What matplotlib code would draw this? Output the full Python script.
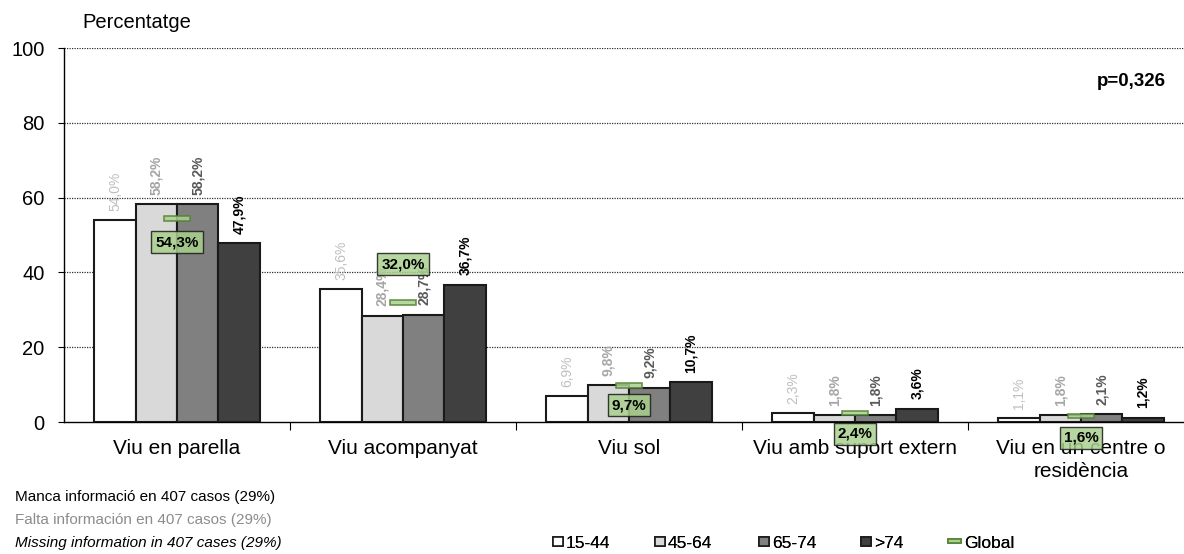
import matplotlib
matplotlib.use("Agg")
import matplotlib.pyplot as plt
from matplotlib.patches import Rectangle
from matplotlib.legend_handler import HandlerPatch
import numpy as np

plt.rcParams['font.family'] = ['Liberation Sans', 'DejaVu Sans']

categories = ["Viu en parella", "Viu acompanyat", "Viu sol", "Viu amb suport extern",
              "Viu en un centre o\nresidència"]
groups = ["15-44", "45-64", "65-74", ">74"]
v_15_44 = [54.0, 35.6, 6.9, 2.3, 1.1]
v_45_64 = [58.2, 28.4, 9.8, 1.8, 1.8]
v_65_74 = [58.2, 28.7, 9.2, 1.8, 2.1]
v_gt74 = [47.9, 36.7, 10.7, 3.6, 1.2]
global_vals = [54.3, 32.0, 9.7, 2.4, 1.6]
global_label_offset = [-6.2, 10.2, -5.2, -5.6, -5.8]
yticks = [0, 20, 40, 60, 80, 100]

series = [v_15_44, v_45_64, v_65_74, v_gt74]
bar_colors = ["#ffffff", "#d9d9d9", "#808080", "#404040"]
lab_colors = ["#bfbfbf", "#a6a6a6", "#595959", "#000000"]
lab_weights = ["normal", "bold", "bold", "bold"]

W, H = 1184, 554
fig = plt.figure(figsize=(W / 100, H / 100), dpi=100)
ax = fig.add_axes([64 / W, 1 - 422 / H, 1120 / W, 374 / H])

x = np.arange(len(categories))
bw = 0.183
for i, vals in enumerate(series):
    off = (i - 1.5) * bw
    ax.bar(x + off, vals, width=bw, color=bar_colors[i], edgecolor="#1a1a1a",
           linewidth=1.5, zorder=3)
    for xi, v in zip(x, vals):
        ax.text(xi + off, v + 2.5, f"{v:.1f}%".replace(".", ","), rotation=90,
                ha="center", va="bottom", fontsize=10, color=lab_colors[i],
                fontweight=lab_weights[i], zorder=5)

# global markers
mw, mh = 0.115, 1.3
for xi, g, o in zip(x, global_vals, global_label_offset):
    ax.add_patch(Rectangle((xi - mw / 2, g - mh / 2), mw, mh, facecolor="#a9d18e",
                           edgecolor="#548235", linewidth=1.2, zorder=6, alpha=0.85))
    ax.text(xi, g + o, f"{g:.1f}%".replace(".", ","), ha="center", va="center",
            fontsize=11, fontweight="bold", color="black", zorder=7,
            bbox=dict(boxstyle="square,pad=0.25", facecolor="#a9d18e", alpha=0.85,
                      edgecolor="#1a1a1a", linewidth=1.0))

ax.set_xlim(-0.5, -0.5 + 1120 / 226)
ax.set_ylim(0, 100)
ax.set_yticks(yticks)
ax.set_yticklabels([str(t) for t in yticks], fontsize=14.5)
for t in yticks[1:]:
    ax.axhline(t, color="#333333", linestyle=(0, (1, 1)), linewidth=0.9, zorder=1)
ax.tick_params(axis="y", length=4, width=0.8, direction="out", pad=10)
ax.set_xticks(x)
ax.set_xticklabels(categories, fontsize=15, linespacing=1.3)
ax.tick_params(axis="x", length=0, pad=12)
ax.set_xticks(np.arange(0.5, len(categories) - 0.5, 1), minor=True)
ax.tick_params(axis="x", which="minor", length=6, width=0.8, direction="out")
for s in ["top", "right"]:
    ax.spines[s].set_visible(False)
ax.spines["left"].set_linewidth(1.0)
ax.spines["bottom"].set_linewidth(1.0)

fig.text(82 / W, 1 - 22 / H, "Percentatge", fontsize=14.5, va="center", ha="left")
fig.text(1166 / W, 1 - 82 / H, "p=0,326", fontsize=13.5, fontweight="bold",
         ha="right", va="center")

fig.text(15 / W, 1 - 497 / H, "Manca informació en 407 casos (29%)", fontsize=11,
         va="center", color="black")
fig.text(15 / W, 1 - 520 / H, "Falta información en 407 casos (29%)", fontsize=11,
         va="center", color="#8c8c8c")
fig.text(15 / W, 1 - 543 / H, "Missing information in 407 cases (29%)", fontsize=11,
         va="center", color="black", style="italic")


def square_patch(legend, orig_handle, xdescent, ydescent, width, height, fontsize):
    s = min(width, height)
    return Rectangle((-xdescent, -ydescent + (height - s) / 2), s, s)


def flat_patch(legend, orig_handle, xdescent, ydescent, width, height, fontsize):
    h = height * 0.4
    return Rectangle((-xdescent, -ydescent + (height - h) / 2), width, h)


handles = [Rectangle((0, 0), 1, 1, facecolor=c, edgecolor="#1a1a1a", linewidth=1.2)
           for c in bar_colors]
handles.append(Rectangle((0, 0), 1, 1, facecolor="#a9d18e", edgecolor="#548235",
                         linewidth=1.2))
leg_labels = groups + ["Global"]
leg_x = [553, 655, 759, 861, 948]
leg_len = [0.55, 0.55, 0.55, 0.55, 0.75]
funcs = [square_patch] * 4 + [flat_patch]
for h, lab, lx, ll, fn in zip(handles, leg_labels, leg_x, leg_len, funcs):
    lg = fig.legend([h], [lab], loc="center left", bbox_to_anchor=(lx / W, 1 - 543 / H),
                    frameon=False, fontsize=12.5, handlelength=ll, handleheight=0.55,
                    handletextpad=0.2, borderaxespad=0, borderpad=0,
                    handler_map={h: HandlerPatch(patch_func=fn)})
    fig.add_artist(lg)

fig.savefig("out.png", dpi=100)
